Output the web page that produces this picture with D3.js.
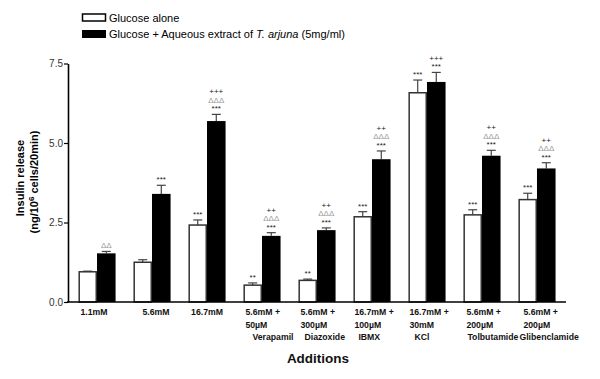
<!DOCTYPE html>
<html><head><meta charset="utf-8">
<script src="https://cdn.jsdelivr.net/npm/d3@7"></script>
<style>body{margin:0;background:#fff;} svg{display:block;font-family:Arial,"Liberation Sans",sans-serif;}</style>
</head><body>
<svg id="c" width="600" height="379"></svg>
<script>
const categories = ["1.1mM","5.6mM","16.7mM","5.6mM+Verapamil","5.6mM+Diazoxide","16.7mM+IBMX","16.7mM+KCl","5.6mM+Tolbutamide","5.6mM+Glibenclamide"];
const categoryLines = [["1.1mM"],["5.6mM"],["16.7mM"],["5.6mM +","50\u00b5M","Verapamil"],["5.6mM +","300\u00b5M","Diazoxide"],["16.7mM +","100\u00b5M","IBMX"],["16.7mM +","30mM","KCl"],["5.6mM +","200\u00b5M","Tolbutamide"],["5.6mM +","200\u00b5M","Glibenclamide"]];
const series = ["Glucose alone","Glucose + Aqueous extract of T. arjuna (5mg/ml)"];
const aloneValues = [0.95,1.25,2.42,0.53,0.68,2.68,6.58,2.74,3.22];
const aloneErrors = [0.02,0.08,0.16,0.07,0.04,0.16,0.40,0.16,0.20];
const extractValues = [1.53,3.40,5.69,2.08,2.26,4.49,6.92,4.60,4.20];
const extractErrors = [0.06,0.27,0.21,0.10,0.07,0.26,0.30,0.17,0.18];
const aloneMarks = [[],[],["***"],["**"],["**"],["***"],["***"],["***"],["***"]];
const extractMarks = [["\u0394\u0394"],["***"],["***","\u0394\u0394\u0394","+++"],["***","\u0394\u0394\u0394","++"],["***","\u0394\u0394\u0394","++"],["***","\u0394\u0394\u0394","++"],["***","+++"],["***","\u0394\u0394\u0394","++"],["***","\u0394\u0394\u0394","++"]];
const yTicks = [0,2.5,5.0,7.5];

const svg = d3.select("#c");
const x0 = d3.scaleBand().domain(categories).range([68,566]).paddingInner(0.325).paddingOuter(0.19);
const x1 = d3.scaleBand().domain([0,1]).range([0,x0.bandwidth()]);
const y = d3.scaleLinear().domain([0,7.5]).range([302,63.5]);

const data = categories.map((c,i)=>({c,i,vals:[
  {s:0,v:aloneValues[i],e:aloneErrors[i],m:aloneMarks[i]},
  {s:1,v:extractValues[i],e:extractErrors[i],m:extractMarks[i]}]}));

const g = svg.selectAll("g.grp").data(data).enter().append("g").attr("class","grp")
  .attr("transform",d=>`translate(${x0(d.c)},0)`);
const b = g.selectAll("g.bar").data(d=>d.vals).enter().append("g").attr("class","bar");
// error bars
b.append("line").attr("x1",d=>x1(d.s)+x1.bandwidth()/2).attr("x2",d=>x1(d.s)+x1.bandwidth()/2)
  .attr("y1",d=>y(d.v)).attr("y2",d=>y(d.v+d.e)).attr("stroke","#444").attr("stroke-width",1.2);
b.append("line").attr("x1",d=>x1(d.s)+x1.bandwidth()/2-4.5).attr("x2",d=>x1(d.s)+x1.bandwidth()/2+4.5)
  .attr("y1",d=>y(d.v+d.e)).attr("y2",d=>y(d.v+d.e)).attr("stroke","#444").attr("stroke-width",1.2);
b.append("rect").attr("x",d=>x1(d.s)+(d.s===0?0.75:0)).attr("width",d=>x1.bandwidth()-(d.s===0?1.5:0))
  .attr("y",d=>y(d.v)).attr("height",d=>y(0)-y(d.v))
  .attr("fill",d=>d.s===0?"#fff":"#000").attr("stroke",d=>d.s===0?"#333":"none").attr("stroke-width",1.5);
// annotations
b.each(function(d){
  const sel = d3.select(this);
  d.m.forEach((t,k)=>{
    const tri = t.indexOf("\u0394")>=0;
    sel.append("text").attr("x",x1(d.s)+x1.bandwidth()/2).attr("y",y(d.v+d.e)-3-k*8.5)
      .attr("text-anchor","middle").attr("font-size","8px")
      .attr("fill",tri?"#999":"#222").text(t);
  });
});

// axes
const yAxis = d3.axisLeft(y).tickValues(yTicks).tickFormat(d3.format(".1f")).tickSize(4).tickSizeOuter(0);
const ya = svg.append("g").attr("transform","translate(68,0)").call(yAxis);
ya.select(".domain").attr("stroke","#000").attr("stroke-width",1.6);
ya.selectAll(".tick line").attr("stroke","#000").attr("stroke-width",1.2);
ya.selectAll(".tick text").attr("font-size","10px").attr("fill","#333").attr("font-family","Arial,sans-serif").attr("x",-5);
svg.append("line").attr("x1",67).attr("x2",566).attr("y1",302).attr("y2",302).attr("stroke","#000").attr("stroke-width",1.6);

// category labels
const labelOffsets = [[0],[0],[0],[2,2,9],[2,2,6],[1,1,5],[1,1,6],[3,3,4],[5,5,1]];
categoryLines.forEach((lines,i)=>{
  const left = x0(categories[i]);
  lines.forEach((t,k)=>{
    const tx = svg.append("text").attr("font-size","8.7px").attr("font-weight","bold").attr("fill","#111")
      .attr("y",315+k*12.5).text(t);
    if(lines.length===1){ tx.attr("x",left+x0.bandwidth()/2+ (i===1?4:(i===0?-3:0))).attr("text-anchor","middle"); }
    else tx.attr("x",left+labelOffsets[i][k]);
  });
});

// axis titles
svg.append("text").attr("x",318).attr("y",363).attr("text-anchor","middle").attr("font-size","13.5px").attr("font-weight","bold").attr("fill","#111").text("Additions");
const yt1 = svg.append("g").attr("transform","translate(0,178) rotate(-90)");
yt1.append("text").attr("x",0).attr("y",24).attr("text-anchor","middle").attr("font-size","11px").attr("font-weight","bold").text("Insulin release");
const yt2 = svg.append("g").attr("transform","translate(0,182) rotate(-90)");
const t2 = yt2.append("text").attr("x",0).attr("y",38).attr("text-anchor","middle").attr("font-size","11px").attr("font-weight","bold");
t2.append("tspan").text("(ng/10");
t2.append("tspan").attr("dy",-4).attr("font-size","8px").text("6");
t2.append("tspan").attr("dy",4).text(" cells/20min)");

// legend
const lg = svg.append("g");
lg.append("rect").attr("x",82.5).attr("y",14).attr("width",23).attr("height",7).attr("fill","#fff").attr("stroke","#000").attr("stroke-width",1.5);
lg.append("rect").attr("x",82).attr("y",30).attr("width",24).attr("height",8).attr("fill","#000");
lg.append("text").attr("x",109).attr("y",21.5).attr("font-size","11px").text(series[0]);
const l2 = lg.append("text").attr("x",109).attr("y",38).attr("font-size","11px");
l2.append("tspan").text("Glucose + Aqueous extract of ");
l2.append("tspan").attr("font-style","italic").text("T. arjuna");
l2.append("tspan").text(" (5mg/ml)");
</script>
</body></html>
